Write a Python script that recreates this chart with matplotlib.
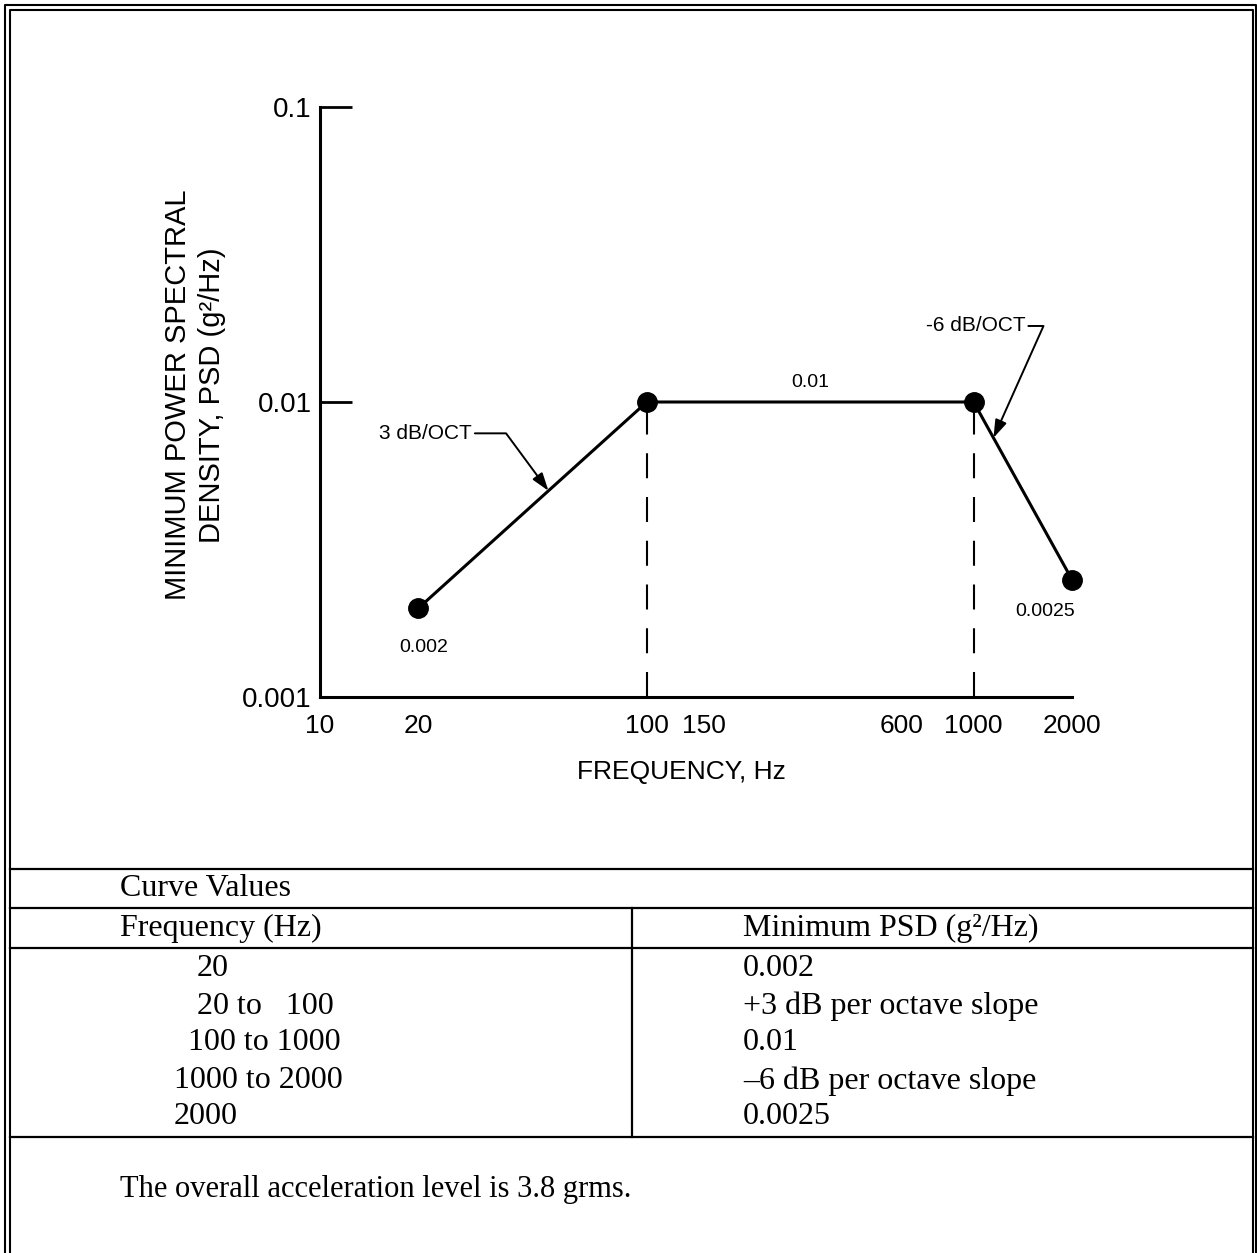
import matplotlib
matplotlib.use("Agg")
import matplotlib.pyplot as plt
from matplotlib import font_manager
from matplotlib.ticker import FixedLocator, NullFormatter, NullLocator
from matplotlib.patches import ArrowStyle

W, H = 1257, 1253

# curve break points
freq = [20, 100, 1000, 2000]
psd = [0.002, 0.01, 0.01, 0.0025]

xtick_vals = [10, 20, 100, 150, 600, 1000, 2000]
xtick_marks = [20, 150, 600, 2000]
ytick_vals = [0.001, 0.01, 0.1]
ytick_labels = ["0.001", "0.01", "0.1"]
dashed_at = [100, 1000]

# table
table_title = "Curve Values"
col_heads = ["Frequency (Hz)", "Minimum PSD (g\u00b2/Hz)"]
col_freq = ["20", "20 to   100", "100 to 1000", "1000 to 2000", "2000"]
col_psd = ["0.002", "+3 dB per octave slope", "0.01", "\u20136 dB per octave slope", "0.0025"]
note = "The overall acceleration level is 3.8 grms."

names = {f.name for f in font_manager.fontManager.ttflist}
sans = "Liberation Sans Narrow" if "Liberation Sans Narrow" in names else "Liberation Sans"
serif = "Liberation Serif"

fig = plt.figure(figsize=(W / 100, H / 100), dpi=100)
bg = fig.add_axes([0, 0, 1, 1])
bg.set_xlim(0, W)
bg.set_ylim(H, 0)
bg.axis("off")

# double frame
bg.plot([5, 5, 1256, 1256], [H, 5, 5, H], color="black", lw=1.5)
bg.plot([9.5, 9.5, 1252.5, 1252.5], [H, 10, 10, H], color="black", lw=1.5)

# table rules
for yy in [869, 908, 948, 1137]:
    bg.plot([9.5, 1252.5], [yy, yy], color="black", lw=1.6)
bg.plot([632, 632], [908, 1137], color="black", lw=1.6)

tkw = dict(family=serif, fontsize=23, va="center", ha="left")
bg.text(120, 888, table_title, **tkw)
bg.text(120, 928, col_heads[0], **tkw)
bg.text(743, 928, col_heads[1], **tkw)
row_y = [968, 1006, 1043, 1081, 1117]
row_x = [197, 197, 188, 174, 174]
for i in range(len(col_freq)):
    bg.text(row_x[i], row_y[i], col_freq[i], **tkw)
    bg.text(743, row_y[i], col_psd[i], **tkw)
bg.text(120, 1190, note, family=serif, fontsize=22, va="center", ha="left")

# axis titles
bg.text(195, 395, "MINIMUM POWER SPECTRAL\nDENSITY, PSD (g\u00b2/Hz)", rotation=90,
        ha="center", va="center", multialignment="center", family=sans,
        fontsize=21, linespacing=1.25)
bg.text(681, 772, "FREQUENCY, Hz", ha="center", va="center", family=sans, fontsize=19)

# chart
ax = fig.add_axes([320 / W, 1 - 697 / H, (1072 - 320) / W, (697 - 107) / H])
ax.set_xscale("log")
ax.set_yscale("log")
ax.set_xlim(10, 2000)
ax.set_ylim(0.001, 0.1)
ax.patch.set_alpha(0)

ax.plot(freq, psd, color="black", lw=2.2, marker="o", ms=14, zorder=4, clip_on=False)
for f in dashed_at:
    ax.plot([f, f], [0.001, 0.01], color="black", lw=1.5, ls=(0, (12, 9)), zorder=3)

for s in ["top", "right"]:
    ax.spines[s].set_visible(False)
for s in ["left", "bottom"]:
    ax.spines[s].set_linewidth(2.2)

ax.set_xticks(xtick_vals, [str(v) for v in xtick_vals])
ax.xaxis.set_minor_locator(FixedLocator(xtick_marks))
ax.xaxis.set_minor_formatter(NullFormatter())
ax.tick_params(axis="x", which="major", length=0, pad=12)
ax.tick_params(axis="x", which="minor", direction="in", length=18, width=1.6)
ax.set_yticks(ytick_vals, ytick_labels)
ax.yaxis.set_minor_locator(NullLocator())
ax.tick_params(axis="y", which="major", direction="in", length=23, width=2, pad=6)
for lab in ax.get_xticklabels():
    lab.set_family(sans)
    lab.set_fontsize(19)
for lab in ax.get_yticklabels():
    lab.set_family(sans)
    lab.set_fontsize(20)

lkw = dict(textcoords="offset points", family=sans, fontsize=14, ha="center", va="center")
ax.annotate("0.002", (freq[0], psd[0]), xytext=(4, -28), **lkw)
ax.annotate("0.0025", (freq[3], psd[3]), xytext=(-19, -23), **lkw)
ax.annotate("0.01", (316, 0.01), xytext=(0, 14), **lkw)

astyle = ArrowStyle("-|>", head_length=0.6, head_width=0.2)
ax.annotate("3 dB/OCT", xy=(50, 0.005), xytext=(29.2, 0.00783), family=sans, fontsize=15,
            ha="right", va="center",
            arrowprops=dict(arrowstyle=astyle, mutation_scale=18, lw=1.4, color="black",
                            shrinkA=0, shrinkB=0, relpos=(1, 0.5),
                            connectionstyle="angle,angleA=0,angleB=-53.6,rad=0"))
ax.annotate("-6 dB/OCT", xy=(1150, 0.00756), xytext=(1442, 0.0181), family=sans, fontsize=15,
            ha="right", va="center",
            arrowprops=dict(arrowstyle=astyle, mutation_scale=18, lw=1.4, color="black",
                            shrinkA=0, shrinkB=0, relpos=(1, 0.5),
                            connectionstyle="angle,angleA=0,angleB=65.9,rad=0"))

fig.savefig("out.png", dpi=100)
